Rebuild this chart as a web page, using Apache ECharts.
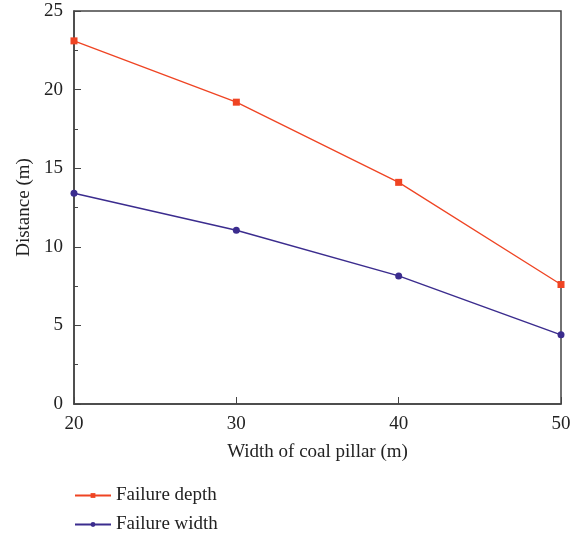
<!DOCTYPE html>
<html>
<head>
<meta charset="utf-8">
<script src="https://cdn.jsdelivr.net/npm/echarts@6/dist/echarts.min.js"></script>
<style>
  html, body { margin: 0; padding: 0; background: #fff; }
  #chart { width: 579px; height: 540px; }
</style>
</head>
<body>
<div id="chart"></div>
<script>
// 数据
var pillarWidth = [20, 30, 40, 50];
var failureDepth = [23.1, 19.2, 14.1, 7.6];
var failureWidth = [13.4, 11.05, 8.15, 4.4];

var font = 'Liberation Serif';

var myChart = echarts.init(document.getElementById('chart'));

function pairs(ys) {
    return pillarWidth.map(function (x, i) { return [x, ys[i]]; });
}

var option = {
    animation: false,
    grid: {
        left: 74, right: 18, top: 11, bottom: 136,
        show: true,
        borderColor: '#444',
        borderWidth: 1.5
    },
    legend: {
        orient: 'vertical',
        left: 74,
        top: 486,
        padding: 0,
        itemWidth: 36,
        itemHeight: 6,
        itemGap: 10,
        textStyle: { fontFamily: font, fontSize: 19, color: '#222' },
        data: ['Failure depth', 'Failure width']
    },
    xAxis: {
        type: 'value',
        min: 20, max: 50, interval: 10,
        name: 'Width of coal pillar (m)',
        nameLocation: 'middle',
        nameGap: 39,
        nameTextStyle: { fontFamily: font, fontSize: 19, color: '#222' },
        axisLine: { lineStyle: { color: '#444', width: 1.5 } },
        axisTick: { inside: true, length: 7, lineStyle: { color: '#444' } },
        axisLabel: { fontFamily: font, fontSize: 19, color: '#222', margin: 11 },
        splitLine: { show: false }
    },
    yAxis: {
        type: 'value',
        min: 0, max: 25, interval: 5,
        name: 'Distance (m)',
        nameLocation: 'middle',
        nameGap: 38,
        nameTextStyle: { fontFamily: font, fontSize: 19, color: '#222' },
        axisLine: { show: true, lineStyle: { color: '#444', width: 1.5 } },
        axisTick: { inside: true, length: 7, lineStyle: { color: '#444' } },
        minorTick: { show: true, splitNumber: 2, length: 4, lineStyle: { color: '#444' } },
        axisLabel: { fontFamily: font, fontSize: 19, color: '#222', margin: 11 },
        splitLine: { show: false }
    },
    series: [
        {
            name: 'Failure depth',
            type: 'line',
            data: pairs(failureDepth),
            symbol: 'rect',
            symbolSize: 7,
            color: '#EF4423',
            lineStyle: { width: 1.3 },
            clip: false
        },
        {
            name: 'Failure width',
            type: 'line',
            data: pairs(failureWidth),
            symbol: 'circle',
            symbolSize: 7,
            color: '#3B2C8E',
            lineStyle: { width: 1.5 },
            clip: false
        }
    ]
};

myChart.setOption(option);
</script>
</body>
</html>
